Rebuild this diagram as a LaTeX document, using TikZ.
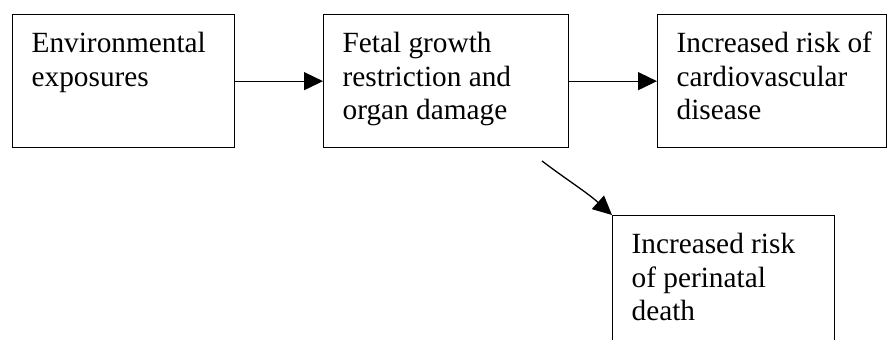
\documentclass[tikz,border=0pt]{standalone}
\usepackage{fontspec}
\setmainfont{Liberation Serif}
\usetikzlibrary{arrows.meta}
\tikzset{
 stage/.style={draw, line width=1.3pt, anchor=north west, inner xsep=19pt, inner ysep=14.5pt,
  font=\fontsize{29.3}{33.5}\selectfont},
 flow/.style={->, line width=1.3pt},
}
\newcommand{\stagetext}[3]{\parbox[t][#2pt][t]{#1pt}{\hfuzz=20pt\strut #3}}

\begin{document}
\begin{tikzpicture}[x=1pt,y=-1pt,>={Triangle[length=19pt,width=18pt]}]
 \clip (0,0) rectangle (887,340);
 %\draw [help lines] (0,0) grid [step=50] (887,340);
 \node [stage] (env) at (12,14) {\stagetext{184}{104}{Environmental\\exposures}};
 \node [stage] (fetal) at (323,14) {\stagetext{207}{104}{Fetal growth\\restriction and\\organ damage}};
 \node [stage] (cardio) at (657,14) {\stagetext{191}{104}{\mbox{Increased risk of}\\cardiovascular\\disease}};
 \node [stage] (peri) at (612,215) {\stagetext{184}{111}{Increased risk\\of perinatal\\death}};
 %
 \coordinate (split) at (542,161);
 \draw [flow] (env.east) -- (fetal.west);
 \draw [flow] (fetal.east) -- (cardio.west);
 \draw [flow] (split) to [out=-37, in=138] (peri.north west);
\end{tikzpicture}
\end{document}
